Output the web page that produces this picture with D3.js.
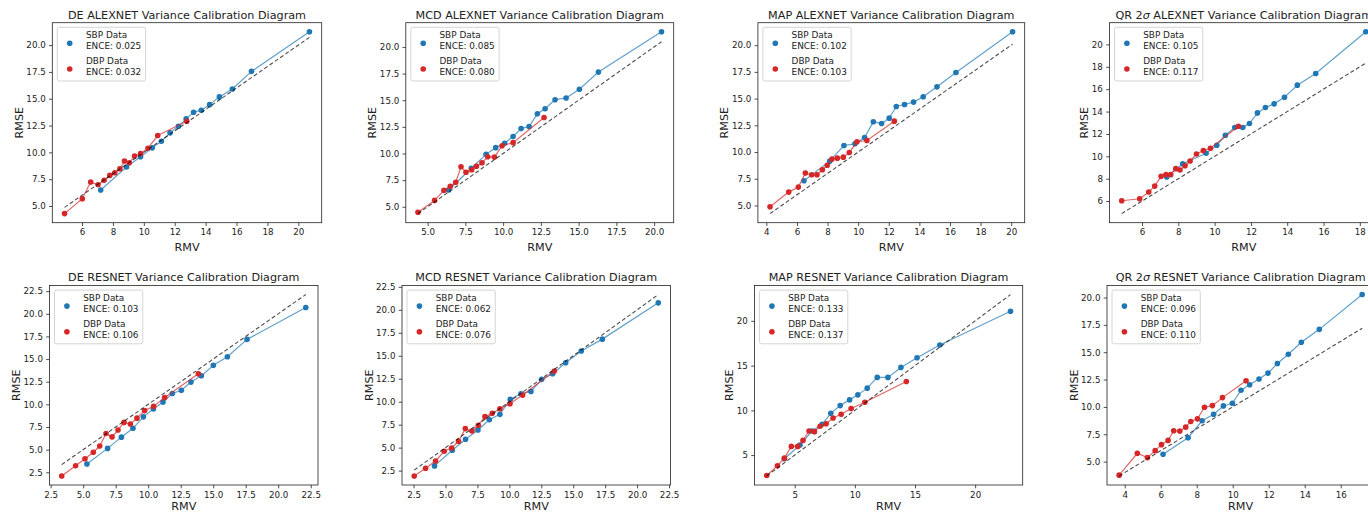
<!DOCTYPE html>
<html>
<head>
<meta charset="utf-8">
<script src="https://cdn.jsdelivr.net/npm/d3@7"></script>
<style>
  body { margin: 0; background: #fff; }
  svg { display: block; font-family: "DejaVu Sans", sans-serif; }
</style>
</head>
<body>
<svg id="fig" width="1368" height="514"></svg>
<script>
// ---- data (RMV = x, RMSE = y) ----
const methods = ["DE", "MCD", "MAP", "QR 2σ"];
const nets = ["ALEXNET", "RESNET"];

const sbpEnce = ["0.025", "0.085", "0.102", "0.105", "0.103", "0.062", "0.133", "0.096"];
const dbpEnce = ["0.032", "0.080", "0.103", "0.117", "0.106", "0.076", "0.137", "0.110"];

// DE ALEXNET
const deAlexSbpRmv  = [7.21, 8.88, 9.79, 10.55, 11.14, 11.70, 12.24, 12.74, 13.22, 13.72, 14.26, 14.89, 15.73, 16.97, 20.72];
const deAlexSbpRmse = [6.49, 8.63, 9.59, 10.42, 11.04, 11.82, 12.44, 13.12, 13.74, 13.93, 14.45, 15.17, 15.91, 17.55, 21.24];
const deAlexDbpRmv  = [4.87, 6.02, 6.56, 7.04, 7.43, 7.80, 8.12, 8.45, 8.75, 9.06, 9.40, 9.79, 10.27, 10.90, 12.78];
const deAlexDbpRmse = [4.29, 5.68, 7.23, 6.98, 7.39, 7.85, 8.10, 8.47, 9.19, 9.03, 9.65, 9.90, 10.39, 11.57, 12.90];
// MCD ALEXNET
const mcdAlexSbpRmv  = [6.39, 7.89, 8.87, 9.51, 10.10, 10.66, 11.19, 11.72, 12.27, 12.78, 13.44, 14.17, 15.05, 16.31, 20.49];
const mcdAlexSbpRmse = [6.57, 8.62, 9.92, 10.55, 10.96, 11.59, 12.34, 12.53, 13.73, 14.20, 15.05, 15.21, 16.03, 17.64, 21.42];
const mcdAlexDbpRmv  = [4.36, 5.46, 6.08, 6.50, 6.86, 7.21, 7.54, 7.92, 8.23, 8.60, 8.98, 9.42, 9.93, 10.66, 12.71];
const mcdAlexDbpRmse = [4.49, 5.60, 6.54, 6.92, 7.30, 8.75, 8.24, 8.47, 8.81, 9.13, 9.69, 9.66, 10.73, 11.02, 13.38];
// MAP ALEXNET
const mapAlexSbpRmv  = [6.46, 8.14, 9.07, 9.79, 10.42, 10.99, 11.53, 12.03, 12.49, 13.03, 13.62, 14.25, 15.15, 16.39, 20.09];
const mapAlexSbpRmse = [7.31, 9.15, 10.61, 10.77, 11.36, 12.83, 12.67, 13.17, 14.26, 14.45, 14.67, 15.17, 16.10, 17.44, 21.25];
const mapAlexDbpRmv  = [4.24, 5.46, 6.09, 6.55, 6.96, 7.31, 7.66, 7.98, 8.29, 8.64, 9.03, 9.42, 9.92, 10.57, 12.36];
const mapAlexDbpRmse = [4.88, 6.25, 6.72, 8.03, 7.87, 7.87, 8.34, 8.77, 9.34, 9.43, 9.52, 9.96, 10.96, 11.08, 12.89];
// QR 2σ ALEXNET
const qrAlexSbpRmv  = [7.36, 8.24, 9.53, 10.12, 10.59, 11.11, 11.55, 11.92, 12.36, 12.80, 13.28, 13.85, 14.56, 15.57, 18.33];
const qrAlexSbpRmse = [8.15, 9.34, 10.27, 10.99, 11.88, 12.57, 12.57, 12.93, 13.88, 14.36, 14.69, 15.28, 16.36, 17.40, 21.13];
const qrAlexDbpRmv  = [4.88, 5.87, 6.37, 6.70, 7.05, 7.32, 7.58, 7.86, 8.09, 8.37, 8.65, 9.00, 9.38, 9.77, 11.31];
const qrAlexDbpRmse = [6.03, 6.21, 6.81, 7.34, 8.21, 8.36, 8.36, 8.90, 8.78, 9.16, 9.58, 10.21, 10.51, 10.72, 12.69];
// DE RESNET
const deResSbpRmv  = [5.29, 6.88, 7.94, 8.83, 9.63, 10.40, 11.14, 11.86, 12.55, 13.29, 14.09, 15.01, 16.09, 17.60, 22.12];
const deResSbpRmse = [3.41, 5.14, 6.38, 7.36, 8.62, 9.49, 10.25, 11.20, 11.56, 12.46, 13.15, 14.31, 15.25, 17.17, 20.69];
const deResDbpRmv  = [3.35, 4.42, 5.14, 5.78, 6.27, 6.76, 7.22, 7.68, 8.14, 8.63, 9.14, 9.73, 10.42, 11.27, 13.86];
const deResDbpRmse = [2.10, 3.22, 3.99, 4.71, 5.40, 6.78, 6.41, 7.17, 8.01, 7.83, 8.48, 9.31, 9.78, 10.76, 13.37];
// MCD RESNET
const mcdResSbpRmv  = [4.14, 5.53, 6.57, 7.54, 8.43, 9.26, 10.07, 10.91, 11.69, 12.53, 13.39, 14.41, 15.63, 17.28, 21.66];
const mcdResSbpRmse = [3.01, 4.71, 5.91, 6.92, 8.04, 8.62, 10.25, 10.87, 11.12, 12.43, 13.04, 14.24, 15.51, 16.81, 20.76];
const mcdResDbpRmv  = [2.55, 3.44, 4.22, 4.90, 5.48, 6.02, 6.55, 7.07, 7.57, 8.09, 8.66, 9.26, 10.05, 11.04, 13.52];
const mcdResDbpRmse = [1.92, 2.75, 3.55, 4.60, 4.96, 5.69, 7.07, 6.81, 7.43, 8.37, 8.73, 9.24, 9.78, 10.72, 13.33];
// MAP RESNET
const mapResSbpRmv  = [4.14, 5.44, 6.44, 7.28, 8.00, 8.78, 9.56, 10.25, 11.03, 11.86, 12.75, 13.83, 15.17, 17.06, 22.94];
const mapResSbpRmse = [4.59, 6.12, 7.69, 8.44, 9.67, 10.53, 11.17, 11.73, 12.48, 13.68, 13.68, 14.80, 15.88, 17.31, 21.08];
const mapResDbpRmv  = [2.67, 3.56, 4.14, 4.72, 5.25, 5.69, 6.19, 6.64, 7.11, 7.61, 8.19, 8.86, 9.69, 10.83, 14.28];
const mapResDbpRmse = [2.72, 3.80, 4.66, 5.97, 5.97, 6.64, 7.69, 7.62, 8.22, 8.51, 9.15, 9.56, 10.20, 10.91, 13.23];
// QR 2σ RESNET
const qrResSbpRmv  = [6.13, 7.52, 8.30, 8.94, 9.48, 9.98, 10.46, 10.94, 11.46, 11.96, 12.48, 13.09, 13.81, 14.81, 17.19];
const qrResSbpRmse = [5.67, 7.18, 8.73, 9.33, 10.09, 10.33, 11.52, 12.03, 12.55, 13.09, 13.97, 14.82, 15.91, 17.09, 20.27];
const qrResDbpRmv  = [3.69, 4.70, 5.26, 5.69, 6.04, 6.41, 6.72, 7.06, 7.39, 7.67, 8.04, 8.43, 8.87, 9.43, 10.74];
const qrResDbpRmse = [3.76, 5.76, 5.36, 6.00, 6.55, 6.94, 7.82, 7.79, 8.15, 8.67, 8.91, 9.97, 10.12, 10.85, 12.39];

// tick labels
const ticksEven4to20  = [4, 6, 8, 10, 12, 14, 16, 18, 20];
const ticksQuarter    = [2.5, 5, 7.5, 10, 12.5, 15, 17.5, 20, 22.5];
const ticksFives      = [5, 10, 15, 20];
const xTicks = [ticksEven4to20, ticksQuarter, ticksEven4to20, ticksEven4to20,
                ticksQuarter, ticksQuarter, ticksFives, ticksEven4to20];
const yTicks = [ticksQuarter, ticksQuarter, ticksQuarter, ticksEven4to20,
                ticksQuarter, ticksQuarter, ticksFives, ticksQuarter];

const sbpColor = "#1f77b4", dbpColor = "#d62728";

// ---- layout (pixels) ----
const rowTop = [22.7, 285.5], rowBottom = [222.7, 485];
const titleY = [19, 280.5], xLabelY = [250.5, 510];
const colSpan = [
  [[52.3, 321.7], [405.8, 673.7], [757.9, 1024.7], [1109.5, 1378]],
  [[49.5, 318], [402, 670.5], [754.5, 1022.7], [1107, 1374.3]]
];

const panels = [
  [deAlexSbpRmv, deAlexSbpRmse, deAlexDbpRmv, deAlexDbpRmse],
  [mcdAlexSbpRmv, mcdAlexSbpRmse, mcdAlexDbpRmv, mcdAlexDbpRmse],
  [mapAlexSbpRmv, mapAlexSbpRmse, mapAlexDbpRmv, mapAlexDbpRmse],
  [qrAlexSbpRmv, qrAlexSbpRmse, qrAlexDbpRmv, qrAlexDbpRmse],
  [deResSbpRmv, deResSbpRmse, deResDbpRmv, deResDbpRmse],
  [mcdResSbpRmv, mcdResSbpRmse, mcdResDbpRmv, mcdResDbpRmse],
  [mapResSbpRmv, mapResSbpRmse, mapResDbpRmv, mapResDbpRmse],
  [qrResSbpRmv, qrResSbpRmse, qrResDbpRmv, qrResDbpRmse]
];

const svg = d3.select("#fig");
const defs = svg.append("defs");

// matplotlib style 5% margins
function padded(ext) {
  const m = (ext[1] - ext[0]) * 0.05;
  return [ext[0] - m, ext[1] + m];
}

panels.forEach((p, i) => {
  const row = Math.floor(i / 4), col = i % 4;
  const [left, right] = colSpan[row][col];
  const top = rowTop[row], bottom = rowBottom[row];
  const [sx, sy, dx, dy] = p;

  const xExt = d3.extent(sx.concat(dx));
  const yExt = d3.extent(sy.concat(dy, xExt));
  const xDom = padded(xExt), yDom = padded(yExt);

  const x = d3.scaleLinear().domain(xDom).range([left, right]);
  const y = d3.scaleLinear().domain(yDom).range([bottom, top]);

  const g = svg.append("g");

  defs.append("clipPath").attr("id", "clip" + i)
    .append("rect").attr("x", left).attr("y", top)
    .attr("width", right - left).attr("height", bottom - top);

  const plot = g.append("g").attr("clip-path", `url(#clip${i})`);
  const line = d3.line().x(d => x(d[0])).y(d => y(d[1]));

  const series = [
    { pts: d3.zip(sx, sy), color: sbpColor },
    { pts: d3.zip(dx, dy), color: dbpColor }
  ];
  series.forEach(s => {
    plot.append("path").datum(s.pts)
      .attr("d", line)
      .attr("fill", "none")
      .attr("stroke", s.color)
      .attr("stroke-opacity", 0.7)
      .attr("stroke-width", 1.2);
    plot.selectAll(null).data(s.pts).enter().append("circle")
      .attr("cx", d => x(d[0]))
      .attr("cy", d => y(d[1]))
      .attr("r", 2.8)
      .attr("fill", s.color);
  });

  // perfect calibration line
  plot.append("path").datum([[xExt[0], xExt[0]], [xExt[1], xExt[1]]])
    .attr("d", line)
    .attr("fill", "none")
    .attr("stroke", "#000")
    .attr("stroke-opacity", 0.7)
    .attr("stroke-width", 1.1)
    .attr("stroke-dasharray", "4,2.4");

  // axes
  const xt = xTicks[i].filter(t => t >= xDom[0] && t <= xDom[1]);
  const yt = yTicks[i].filter(t => t >= yDom[0] && t <= yDom[1]);
  const xf = d3.format(xTicks[i].some(t => t % 1 !== 0) ? ".1f" : "d");
  const yf = d3.format(yTicks[i].some(t => t % 1 !== 0) ? ".1f" : "d");

  const gx = g.append("g")
    .attr("transform", `translate(0,${bottom})`)
    .call(d3.axisBottom(x).tickValues(xt).tickFormat(xf).tickSize(3.3).tickPadding(3.3));
  const gy = g.append("g")
    .attr("transform", `translate(${left},0)`)
    .call(d3.axisLeft(y).tickValues(yt).tickFormat(yf).tickSize(3.3).tickPadding(3.3));
  [gx, gy].forEach(a => {
    a.select(".domain").remove();
    a.attr("font-family", null).attr("font-size", null);
    a.selectAll("line").attr("stroke", "#222").attr("stroke-width", 0.8);
    a.selectAll("text").attr("fill", "#222").style("font-size", "8.7px");
  });

  // frame
  g.append("rect")
    .attr("x", left).attr("y", top)
    .attr("width", right - left).attr("height", bottom - top)
    .attr("fill", "none").attr("stroke", "#222").attr("stroke-width", 0.8);

  // title
  const cx = (left + right) / 2;
  const title = g.append("text")
    .attr("x", cx).attr("y", titleY[row])
    .attr("text-anchor", "middle")
    .style("font-size", "11.2px").attr("fill", "#222");
  const m = methods[col];
  if (m.includes("σ")) {
    title.append("tspan").text(m.replace("σ", ""));
    title.append("tspan").attr("font-style", "italic").text("σ");
  } else {
    title.append("tspan").text(m);
  }
  title.append("tspan").text(` ${nets[row]} Variance Calibration Diagram`);

  // axis labels
  g.append("text")
    .attr("x", cx).attr("y", xLabelY[row])
    .attr("text-anchor", "middle")
    .style("font-size", "11.2px").attr("fill", "#222")
    .text("RMV");
  // bbox is in the axis group's own coordinates, so add its offset
  const tickLeft = left + gy.node().getBBox().x;
  g.append("text")
    .attr("transform", `translate(${tickLeft - 3.5},${(top + bottom) / 2}) rotate(-90)`)
    .attr("text-anchor", "middle")
    .style("font-size", "11.2px").attr("fill", "#222")
    .text("RMSE");

  // legend (upper left)
  const lg = g.append("g").attr("transform", `translate(${left + 5},${top + 4.6})`);
  const box = lg.append("rect")
    .attr("rx", 2).attr("ry", 2)
    .attr("fill", "#fff").attr("fill-opacity", 0.8)
    .attr("stroke", "#d0d0d0").attr("stroke-width", 0.9);
  const entries = [
    { label: "SBP Data", ence: sbpEnce[i], color: sbpColor },
    { label: "DBP Data", ence: dbpEnce[i], color: dbpColor }
  ];
  let maxW = 0;
  entries.forEach((e, k) => {
    const oy = k * 25.7;
    lg.append("circle").attr("cx", 12.4).attr("cy", oy + 16).attr("r", 2.8).attr("fill", e.color);
    [e.label, "ENCE: " + e.ence].forEach((t, j) => {
      const tx = lg.append("text")
        .attr("x", 28.7).attr("y", oy + 8 + j * 11)
        .attr("dy", "0.35em")
        .style("font-size", "8.9px").attr("fill", "#222")
        .text(t);
      maxW = Math.max(maxW, tx.node().getComputedTextLength());
    });
  });
  box.attr("width", 28.7 + maxW + 4.3).attr("height", 53.7);
});
</script>
</body>
</html>
